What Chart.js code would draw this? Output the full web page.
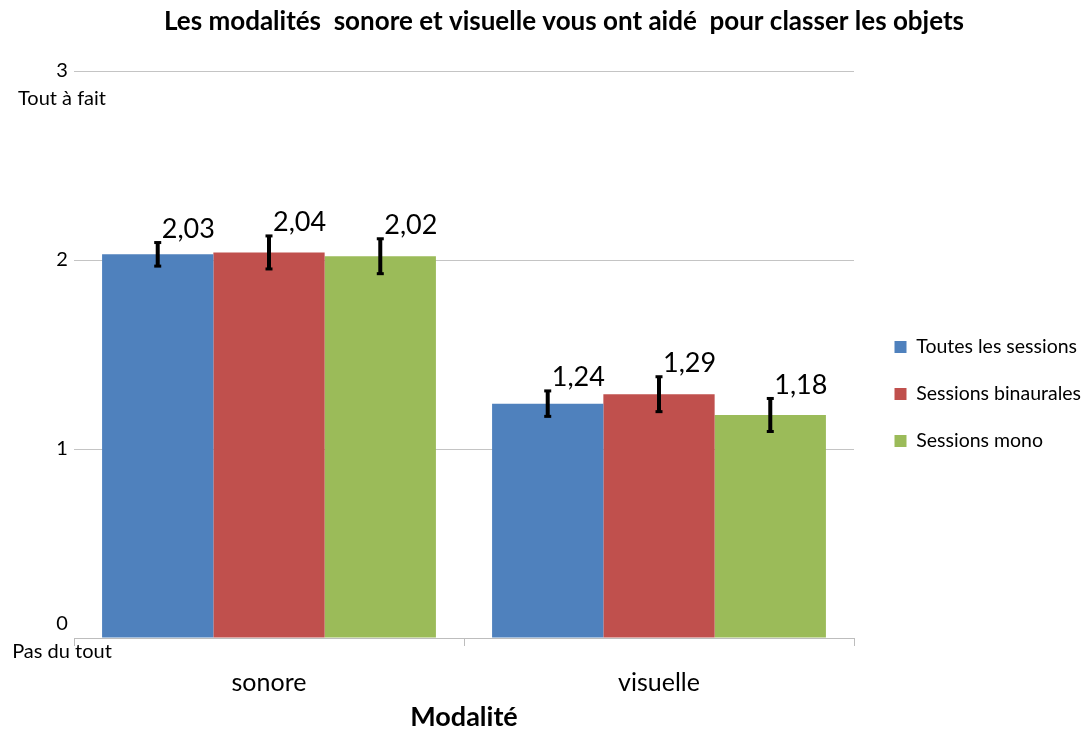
<!DOCTYPE html>
<html>
<head>
<meta charset="utf-8">
<script src="https://cdn.jsdelivr.net/npm/chart.js@4"></script>
<style>
  html, body { margin: 0; padding: 0; background: #fff; }
  #wrap { width: 1090px; height: 731px; }
</style>
</head>
<body>
<div id="wrap"><canvas id="chartModalite"></canvas></div>
<script>
const categories = ["sonore", "visuelle"];
const seriesNames = ["Toutes les sessions", "Sessions binaurales", "Sessions mono"];
const toutes = [2.03, 1.24];
const binaurales = [2.04, 1.29];
const mono = [2.02, 1.18];
const errToutes = [0.065, 0.07];
const errBinaurales = [0.09, 0.095];
const errMono = [0.095, 0.09];
const yTickLabels = { 0: ["0", "Pas du tout"], 1: "1", 2: "2", 3: ["", "3", "Tout à fait"] };

const colors = ["#4F81BD", "#C0504D", "#9BBB59"];
const errors = [errToutes, errBinaurales, errMono];

Chart.defaults.font.family = "Lato, 'Noto Sans', sans-serif";
Chart.defaults.color = "#000";

// measure texts so the axis labels and legend land where they should
const mctx = document.createElement("canvas").getContext("2d");
mctx.font = "20px Lato";
const widestY = mctx.measureText("Pas du tout").width;
mctx.font = "19.5px Lato";
const legendText = Math.max(...seriesNames.map(s => mctx.measureText(s).width));
const legendW = Math.min(27.5 + 12 + 9.75 + legendText + 10, 223);

const errorBars = {
  id: "errorBars",
  afterDatasetsDraw(chart) {
    const ctx = chart.ctx;
    const y = chart.scales.y;
    ctx.save();
    chart.data.datasets.forEach((ds, i) => {
      const meta = chart.getDatasetMeta(i);
      meta.data.forEach((bar, j) => {
        const v = ds.data[j];
        const e = errors[i][j];
        const top = y.getPixelForValue(v + e);
        const bot = y.getPixelForValue(v - e);
        ctx.strokeStyle = "#000";
        ctx.lineWidth = 4;
        ctx.beginPath();
        ctx.moveTo(bar.x, top);
        ctx.lineTo(bar.x, bot);
        ctx.stroke();
        ctx.fillStyle = "#000";
        ctx.fillRect(bar.x - 3.5, top - 1, 7, 3);
        ctx.fillRect(bar.x - 3.5, bot - 2, 7, 3);
        // value label
        ctx.font = "27px Lato";
        ctx.textAlign = "left";
        ctx.textBaseline = "alphabetic";
        ctx.fillText(v.toFixed(2).replace(".", ","), bar.x + 4, top - 4);
      });
    });
    ctx.restore();
  }
};

const data = {
  labels: categories,
  datasets: [
    { label: seriesNames[0], data: toutes, backgroundColor: colors[0] },
    { label: seriesNames[1], data: binaurales, backgroundColor: colors[1] },
    { label: seriesNames[2], data: mono, backgroundColor: colors[2] },
  ],
};

const config = {
  type: "bar",
  data,
  plugins: [errorBars],
  options: {
    responsive: true,
    maintainAspectRatio: false,
    animation: false,
    categoryPercentage: 0.856,
    barPercentage: 1.0,
    borderWidth: 0,
    layout: { padding: { left: 38, right: 0, top: 0, bottom: 0 } },
    plugins: {
      title: {
        display: true,
        text: "Les modalités  sonore et visuelle vous ont aidé  pour classer les objets",
        font: { size: 26, weight: "bold", lineHeight: 1.2 },
        color: "#000",
        padding: { top: 6, bottom: 33.8 },
      },
      legend: {
        position: "right",
        fullSize: false,
        maxWidth: 223,
        title: { display: true, text: "", font: { size: 10, lineHeight: 1 }, padding: { top: 0, bottom: 69 } },
        labels: {
          boxWidth: 12,
          boxHeight: 12,
          padding: 27.5,
          color: "#000",
          font: { size: 19.5 },
        },
      },
      tooltip: { enabled: false },
    },
    scales: {
      x: {
        grid: { display: true, drawOnChartArea: false, drawTicks: true, tickLength: 8, color: "#bdbdbd", offset: true },
        border: { display: true, color: "#bdbdbd" },
        ticks: { font: { size: 25 }, color: "#000", padding: 22 },
        title: {
          display: true,
          text: "Modalité",
          font: { size: 27, weight: "bold", lineHeight: 1 },
          color: "#000",
          padding: { top: 0, bottom: 0 },
        },
        afterFit: (scale) => { scale.height = 93; },
      },
      y: {
        min: 0,
        max: 3,
        ticks: {
          stepSize: 1,
          mirror: true,
          crossAlign: "center",
          padding: -12 - widestY / 2,
          color: "#000",
          font: { size: 20, lineHeight: 1.4 },
          callback: (value) => yTickLabels[value],
        },
        grid: { color: "#c4c4c4", drawTicks: false },
        border: { display: false },
        afterFit: (scale) => { scale.width = 36; },
      },
      y2: {
        position: "right",
        display: true,
        grid: { display: false },
        border: { display: false },
        ticks: { display: false },
        afterFit: (scale) => { scale.width = 1090 - 854 - legendW; },
      },
    },
  },
};

const chartModalite = new Chart(document.getElementById("chartModalite"), config);
</script>
</body>
</html>
